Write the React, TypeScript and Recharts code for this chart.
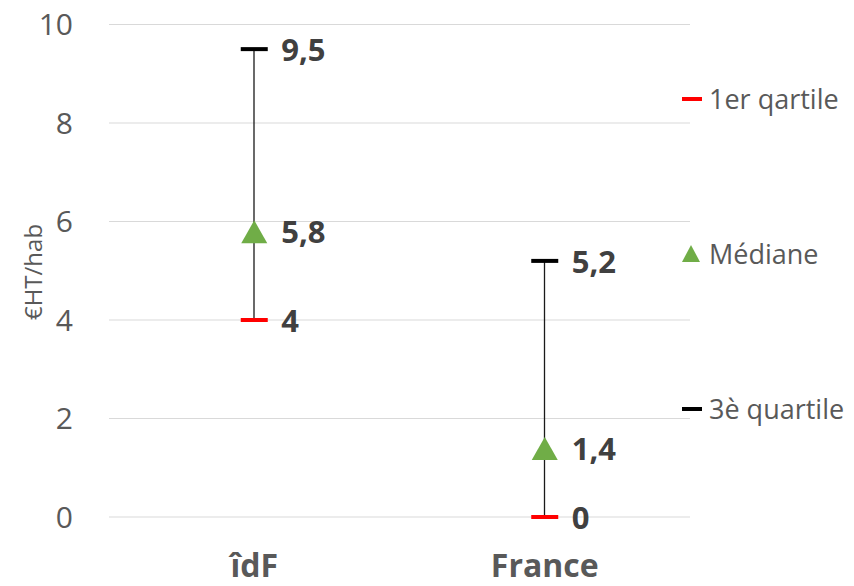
import React from 'react';
import { ComposedChart, Bar, Line, XAxis, YAxis, CartesianGrid, Legend, LabelList, Label } from 'recharts';

const categories = ['îdF', 'France'];
const q1Values = [4, 0];
const medianValues = [5.8, 1.4];
const q3Values = [9.5, 5.2];
const yTicks = [0, 2, 4, 6, 8, 10];
const legendLabels = ['1er qartile', 'Médiane', '3è quartile'];
const axisTitle = '€HT/hab';

const data = categories.map((c, i) => ({
  cat: c,
  q1: q1Values[i],
  med: medianValues[i],
  q3: q3Values[i],
  range: [q1Values[i], q3Values[i]],
}));

const FONT = '"Open Sans", sans-serif';
const RED = '#FF0000';
const GREEN = '#70AD47';
const BLACK = '#000000';

const fmt = (v: number) => String(v).replace('.', ',');

const makeDash = (color: string) => (props: any) => {
  const { cx, cy, index } = props;
  if (cx == null || cy == null) return <g key={`d${index}`} />;
  return <rect key={`d${index}`} x={cx - 13.5} y={cy - 2} width={27} height={4} fill={color} />;
};

const Tri = (props: any) => {
  const { cx, cy, index } = props;
  if (cx == null || cy == null) return <g key={`t${index}`} />;
  return (
    <polygon
      key={`t${index}`}
      points={`${cx},${cy - 11} ${cx + 13},${cy + 12} ${cx - 13},${cy + 12}`}
      fill={GREEN}
    />
  );
};

const RangeLine = (props: any) => {
  const { x, y, width, height } = props;
  const cx = x + width / 2;
  return <line x1={cx} x2={cx} y1={y} y2={y + height} stroke="#1a1a1a" strokeWidth={1.3} />;
};

const ValueLabel = (props: any) => {
  const { x, y, value } = props;
  return (
    <text
      x={x + 27}
      y={y}
      dominantBaseline="central"
      fontFamily={FONT}
      fontWeight={700}
      fontSize={31}
      fill="#404040"
    >
      {fmt(value)}
    </text>
  );
};

const XTick = (props: any) => {
  const { x, y, payload } = props;
  return (
    <text x={x} y={y + 60} textAnchor="middle" fontFamily={FONT} fontWeight={700} fontSize={32} fill="#595959">
      {payload.value}
    </text>
  );
};

const YTitle = (props: any) => {
  const { viewBox } = props;
  const cx = viewBox.x + 3;
  const cy = 272;
  return (
    <text
      x={cx}
      y={cy}
      transform={`rotate(-90 ${cx} ${cy})`}
      textAnchor="middle"
      dominantBaseline="central"
      fontFamily={FONT}
      fontSize={24}
      fill="#595959"
    >
      {axisTitle}
    </text>
  );
};

const LegendContent = () => {
  const icons = [
    <rect key="a" x={0} y={8} width={20} height={4} fill={RED} />,
    <polygon key="b" points="9,1 18,18 0,18" fill={GREEN} />,
    <rect key="c" x={0} y={8} width={20} height={4} fill={BLACK} />,
  ];
  return (
    <div style={{ position: 'relative', width: 172, height: 360 }}>
      {legendLabels.map((l, i) => (
        <div
          key={l}
          style={{
            position: 'absolute',
            left: 0,
            top: 6 + i * 155,
            height: 30,
            display: 'flex',
            alignItems: 'center',
            whiteSpace: 'nowrap',
          }}
        >
          <svg width={20} height={20} style={{ display: 'block' }}>
            {icons[i]}
          </svg>
          <span style={{ marginLeft: 7, fontFamily: FONT, fontSize: 27, color: '#595959', lineHeight: '30px' }}>
            {l}
          </span>
        </div>
      ))}
    </div>
  );
};

export default function App() {
  return (
    <div style={{ margin: -8, width: 854, height: 586, overflow: 'hidden' }}>
      <ComposedChart
        width={854}
        height={586}
        data={data}
        margin={{ top: 24.5, right: 164, bottom: 9, left: 29 }}
      >
        <CartesianGrid vertical={false} stroke="#d9d9d9" strokeWidth={1} />
        <XAxis
          dataKey="cat"
          axisLine={false}
          tickLine={false}
          tickSize={0}
          tickMargin={0}
          height={60}
          tick={<XTick />}
          interval={0}
        />
        <YAxis
          type="number"
          domain={[0, 10]}
          ticks={yTicks}
          axisLine={false}
          tickLine={false}
          tickSize={0}
          tickMargin={36}
          width={80}
          tick={{ fontFamily: FONT, fontSize: 30, fill: '#595959' }}
        >
          <Label content={<YTitle />} />
        </YAxis>
        <Legend
          layout="horizontal"
          verticalAlign="middle"
          align="center"
          content={<LegendContent />}
          wrapperStyle={{ left: 682, top: 78, width: 172, height: 360 }}
        />
        <Bar dataKey="range" barSize={20} shape={<RangeLine />} isAnimationActive={false} legendType="none" />
        <Line dataKey="q1" stroke="none" dot={makeDash(RED)} activeDot={false} isAnimationActive={false}>
          <LabelList dataKey="q1" content={<ValueLabel />} />
        </Line>
        <Line dataKey="med" stroke="none" dot={Tri} activeDot={false} isAnimationActive={false}>
          <LabelList dataKey="med" content={<ValueLabel />} />
        </Line>
        <Line dataKey="q3" stroke="none" dot={makeDash(BLACK)} activeDot={false} isAnimationActive={false}>
          <LabelList dataKey="q3" content={<ValueLabel />} />
        </Line>
      </ComposedChart>
    </div>
  );
}
